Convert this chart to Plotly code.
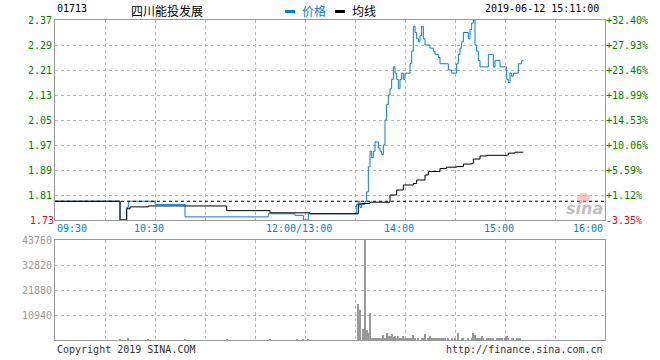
import plotly.graph_objects as go

# ---------------- data ----------------
STOCK_CODE = "01713"
STOCK_NAME = "四川能投发展"
STAMP = "2019-06-12 15:11:00"
PREV_CLOSE = 1.79

PRICE_TIME = ["09:30", "10:09", "10:13", "10:14", "10:30", "10:48", "11:38", "11:54", "11:59",
              "13:02", "13:31", "13:32", "13:33", "13:34", "13:36", "13:37", "13:38", "13:39",
              "13:40", "13:41", "13:42", "13:44", "13:45", "13:46", "13:47", "13:48", "13:49",
              "13:50", "13:51", "13:52", "13:53", "13:54", "13:55", "13:56", "13:57", "13:58",
              "13:59", "14:00", "14:03", "14:04", "14:05", "14:06", "14:07", "14:08", "14:09",
              "14:10", "14:11", "14:12", "14:15", "14:17", "14:18", "14:20", "14:21", "14:26",
              "14:28", "14:31", "14:32", "14:33", "14:34", "14:35", "14:38", "14:39", "14:40",
              "14:41", "14:42", "14:43", "14:44", "14:45", "14:50", "14:53", "14:54", "14:57",
              "15:01", "15:02", "15:03", "15:04", "15:05", "15:08", "15:10", "15:11"]
PRICE = [1.79, 1.73, 1.77, 1.79, 1.78, 1.74, 1.75, 1.745, 1.73,
         1.75, 1.78, 1.79, 1.77, 1.78, 1.79, 1.82, 1.90, 1.95,
         1.93, 1.95, 1.98, 1.96, 1.95, 1.94, 1.97, 2.05, 2.10,
         2.13, 2.15, 2.18, 2.22, 2.20, 2.18, 2.15, 2.18, 2.20,
         2.18, 2.20, 2.23, 2.27, 2.35, 2.33, 2.31, 2.30, 2.32,
         2.35, 2.31, 2.29, 2.28, 2.27, 2.26, 2.25, 2.23, 2.21,
         2.20, 2.23, 2.26, 2.28, 2.30, 2.33, 2.31, 2.34, 2.36,
         2.37, 2.29, 2.27, 2.24, 2.22, 2.26, 2.22, 2.24, 2.22,
         2.18, 2.17, 2.20, 2.19, 2.20, 2.23, 2.24, 2.24]

AVG_TIME = ["09:30", "10:09", "10:13", "10:15", "10:26", "11:13", "11:39", "13:03", "13:32",
            "13:34", "13:39", "13:51", "13:55", "13:59", "14:05", "14:07", "14:12", "14:14",
            "14:21", "14:25", "14:31", "14:35", "14:40", "14:41", "14:45", "14:49", "15:01",
            "15:02", "15:06", "15:11"]
AVG = [1.79, 1.73, 1.766, 1.772, 1.775, 1.760, 1.753, 1.750, 1.781,
       1.783, 1.787, 1.810, 1.826, 1.842, 1.847, 1.858, 1.874, 1.885,
       1.895, 1.899, 1.901, 1.909, 1.911, 1.925, 1.935, 1.937, 1.938,
       1.944, 1.947, 1.947]

VOL_TIME = ["10:09", "10:14", "10:26", "10:48", "11:13", "11:39", "11:55", "11:59", "13:02",
            "13:32", "13:33", "13:35", "13:36", "13:37", "13:38", "13:39", "13:40", "13:41",
            "13:42", "13:43", "13:44", "13:45", "13:46", "13:47", "13:48", "13:49", "13:50",
            "13:51", "13:52", "13:53", "13:54", "13:55", "13:56", "13:57", "13:58", "13:59",
            "14:00", "14:01", "14:02", "14:03", "14:04", "14:05", "14:06", "14:08", "14:10",
            "14:11", "14:12", "14:14", "14:15", "14:16", "14:17", "14:18", "14:19", "14:20",
            "14:21", "14:22", "14:23", "14:24", "14:26", "14:28", "14:30", "14:32", "14:34",
            "14:35", "14:38", "14:40", "14:41", "14:42", "14:43", "14:44", "14:45", "14:46",
            "14:47", "14:49", "14:50", "14:51", "14:52", "14:53", "14:55", "14:56", "14:57",
            "14:58", "15:00", "15:01", "15:02", "15:04", "15:05", "15:07", "15:08", "15:09"]
VOL = [300, 500, 300, 300, 300, 300, 300, 300, 300,
       15600, 13130, 4670, 43760, 4230, 3210, 11670, 875, 440,
       440, 440, 440, 1020, 440, 2190, 1020, 2920, 1750,
       1750, 2630, 1460, 1900, 1020, 1750, 600, 600, 1750,
       1020, 440, 440, 440, 440, 2190, 1020, 600, 1020,
       600, 2630, 600, 1750, 440, 600, 600, 600, 1020,
       440, 440, 440, 440, 600, 440, 440, 3060, 440,
       600, 440, 600, 2920, 2190, 1020, 600, 1020, 1750,
       440, 440, 440, 440, 440, 600, 440, 440, 440,
       440, 440, 1750, 600, 600, 440, 1020, 440, 440]

PRICE_TICKS = [1.73, 1.81, 1.89, 1.97, 2.05, 2.13, 2.21, 2.29, 2.37]
VOL_TICKS = [10940, 21880, 32820, 43760]
TIME_LABELS = ["09:30", "10:30", "12:00/13:00", "14:00", "15:00", "16:00"]
TIME_LABEL_AT = ["09:30", "10:30", "13:00", "14:00", "15:00", "16:00"]

# ---------------- helpers ----------------
def tmin(s):
    h, m = map(int, s.split(":"))
    t = h * 60 + m
    if t <= 12 * 60:
        return t - (9 * 60 + 30)
    return t - 13 * 60 + 150

BLUE = "#0a7dd0"
GREEN = "#008000"
RED = "#ff0000"
GRID = "#b4b4b4"
FRAME = "#999999"
MONO = "DejaVu Sans Mono"

px = [tmin(t) for t in PRICE_TIME]
ax = [tmin(t) for t in AVG_TIME]
vx = [tmin(t) for t in VOL_TIME]
TOTAL = 330

up_ticks = [p for p in PRICE_TICKS if p > PREV_CLOSE]
dn_ticks = [p for p in PRICE_TICKS if p <= PREV_CLOSE]
def to_pct(p):
    return (p / PREV_CLOSE - 1) * 100
pct_lo, pct_hi = to_pct(PRICE_TICKS[0]), to_pct(PRICE_TICKS[-1])

fig = go.Figure()
fig.add_trace(go.Scatter(x=px, y=PRICE, mode="lines", line=dict(color=BLUE, width=1, shape="hv"),
                         xaxis="x", yaxis="y", hoverinfo="skip", showlegend=False))
fig.add_trace(go.Scatter(x=ax, y=AVG, mode="lines", line=dict(color="#000000", width=1, shape="hv"),
                         xaxis="x", yaxis="y", hoverinfo="skip", showlegend=False))
for yax in ["y2", "y4", "y5"]:
    fig.add_trace(go.Scatter(x=[0], y=[0], mode="markers", marker=dict(opacity=0),
                             xaxis="x", yaxis=yax, hoverinfo="skip", showlegend=False))
fig.add_trace(go.Bar(x=vx, y=VOL, marker=dict(color="#999999", line=dict(width=0)), width=0.6,
                     xaxis="x2", yaxis="y3", hoverinfo="skip", showlegend=False))

grid_x = list(range(0, TOTAL + 1, 30))
common_x = dict(range=[0, TOTAL], tickvals=grid_x, showticklabels=False, showgrid=True,
                gridcolor=GRID, griddash="dot", gridwidth=1, showline=True, mirror=True,
                linecolor=FRAME, linewidth=1, ticks="", zeroline=False, fixedrange=True)
font_g = dict(family=MONO, size=10, color=GREEN)
font_r = dict(family=MONO, size=10, color=RED)

fig.update_layout(
    width=660, height=360,
    margin=dict(l=55, r=55, t=20, b=20),
    paper_bgcolor="white", plot_bgcolor="white",
    showlegend=False, bargap=0,
    xaxis=dict(domain=[0, 1], anchor="y", **common_x),
    xaxis2=dict(domain=[0, 1], anchor="y3", **common_x),
    yaxis=dict(domain=[0.375, 1], anchor="x", range=[PRICE_TICKS[0], PRICE_TICKS[-1]],
               tickvals=up_ticks, ticktext=[f"{p:.2f}" for p in up_ticks], tickfont=font_g,
               showgrid=True, gridcolor=GRID, griddash="dot", showline=True, mirror=True,
               linecolor=FRAME, linewidth=1, ticks="", zeroline=False),
    yaxis4=dict(overlaying="y", side="left", anchor="x", range=[PRICE_TICKS[0], PRICE_TICKS[-1]],
                tickvals=dn_ticks, ticktext=[f"{p:.2f}" for p in dn_ticks], tickfont=font_r,
                showgrid=False, showline=False, ticks="", zeroline=False),
    yaxis2=dict(overlaying="y", side="right", anchor="x", range=[pct_lo, pct_hi],
                tickvals=[to_pct(p) for p in up_ticks],
                ticktext=[f"{to_pct(p):+.2f}%" for p in up_ticks], tickfont=font_g,
                showgrid=False, showline=False, ticks="", zeroline=False),
    yaxis5=dict(overlaying="y", side="right", anchor="x", range=[pct_lo, pct_hi],
                tickvals=[to_pct(p) for p in dn_ticks],
                ticktext=[f"{to_pct(p):+.2f}%" for p in dn_ticks], tickfont=font_r,
                showgrid=False, showline=False, ticks="", zeroline=False),
    yaxis3=dict(domain=[0, 0.3125], anchor="x2", range=[0, VOL_TICKS[-1]],
                tickvals=VOL_TICKS, ticktext=[str(v) for v in VOL_TICKS],
                tickfont=dict(family=MONO, size=10, color="#999999"),
                showgrid=True, gridcolor=GRID, griddash="dot", showline=True, mirror=True,
                linecolor=FRAME, linewidth=1, ticks="", zeroline=False),
)

# previous close dotted line
fig.add_shape(type="line", xref="x", yref="y", x0=0, x1=TOTAL, y0=PREV_CLOSE, y1=PREV_CLOSE,
              line=dict(color="#000000", width=1, dash="dot"))

# time labels
for lab, at in zip(TIME_LABELS, TIME_LABEL_AT):
    m = tmin(at)
    if m == 0:
        xa, xs = "left", 0
    elif m == TOTAL:
        xa, xs = "right", 0
    else:
        xa, xs = "center", -6
    fig.add_annotation(x=m, y=PRICE_TICKS[0], xref="x", yref="y", text=lab, showarrow=False,
                       xanchor=xa, yanchor="top", xshift=xs, yshift=-1,
                       font=dict(family=MONO, size=10, color=BLUE))

def pxx(v):
    return (v - 55) / 550

def pxy(v):
    return (340 - v) / 320

ann = [
    (STOCK_CODE, 55, 8.5, "left", "#000000", MONO, 10),
    (STOCK_NAME, 129, 10, "left", "#000000", "Noto Sans CJK SC", 12),
    ("价格", 300, 10, "left", BLUE, "Noto Sans CJK SC", 12),
    ("均线", 350, 10, "left", "#000000", "Noto Sans CJK SC", 12),
    (STAMP, 601, 9, "right", "#000000", MONO, 10),
    ("Copyright 2019 SINA.COM", 55, 349.5, "left", "#333333", MONO, 10),
    ("http://finance.sina.com.cn", 605, 349.5, "right", "#333333", MONO, 10),
]
for t, x, y, xa, c, f, s in ann:
    fig.add_annotation(x=pxx(x), y=pxy(y), xref="paper", yref="paper", text=t, showarrow=False,
                       xanchor=xa, yanchor="middle", font=dict(family=f, size=s, color=c))

# legend swatches
fig.add_shape(type="rect", xref="paper", yref="paper", x0=pxx(285), x1=pxx(295), y0=pxy(13), y1=pxy(10),
              fillcolor=BLUE, line=dict(width=0))
fig.add_shape(type="rect", xref="paper", yref="paper", x0=pxx(335), x1=pxx(345), y0=pxy(13), y1=pxy(10),
              fillcolor="#000000", line=dict(width=0))

# sina watermark
fig.add_shape(type="circle", xref="paper", yref="paper", x0=pxx(577), x1=pxx(590), y0=pxy(203), y1=pxy(193),
              fillcolor="rgba(240,150,160,0.55)", line=dict(width=0))
fig.add_annotation(x=pxx(584), y=pxy(208), xref="paper", yref="paper", text="<b><i>sina</i></b>",
                   showarrow=False, xanchor="center", yanchor="middle",
                   font=dict(family="DejaVu Sans", size=16, color="rgba(170,170,170,0.75)"))

fig.write_html("out.html", config={"displayModeBar": False},
               post_script="document.body.style.margin='0';")
